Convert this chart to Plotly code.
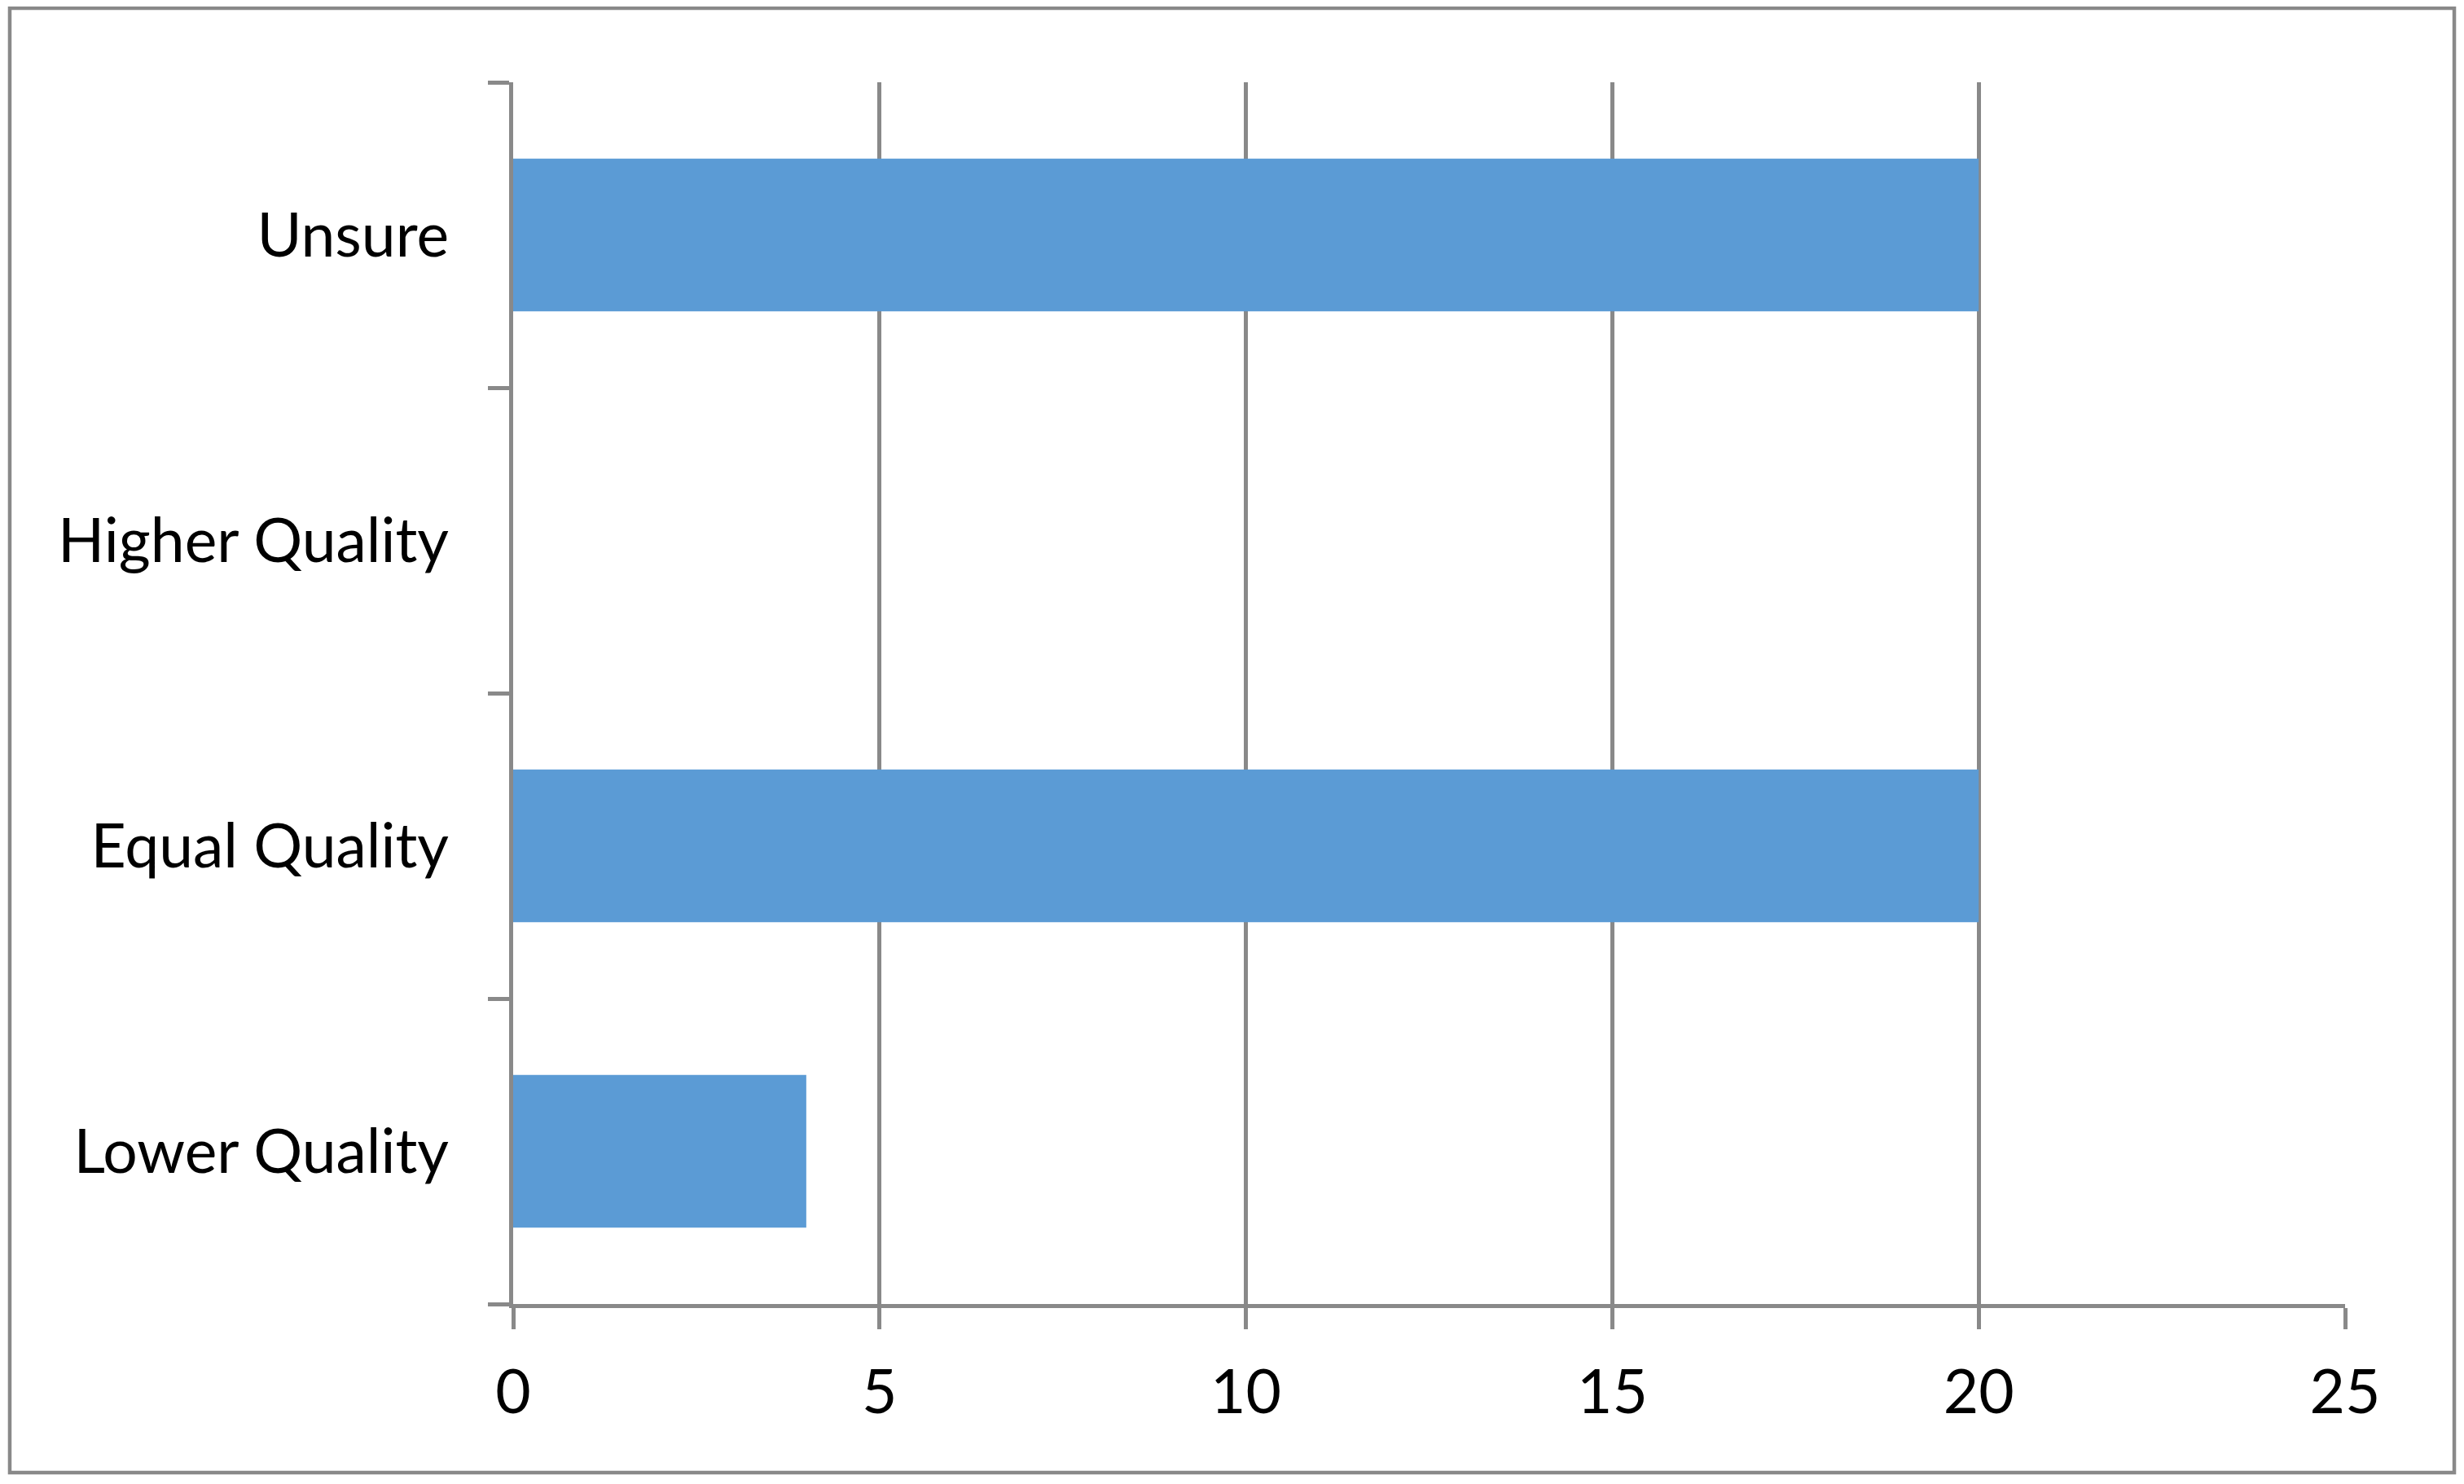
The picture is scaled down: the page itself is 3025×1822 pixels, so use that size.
import plotly.graph_objects as go

categories = ["Lower Quality", "Equal Quality", "Higher Quality", "Unsure"]
values = [4, 20, 0, 20]
x_ticks = [0, 5, 10, 15, 20, 25]

GRID = "#898989"
BAR = "#5B9BD5"
FONT = "Lato"

fig = go.Figure(
    go.Bar(
        y=categories,
        x=values,
        orientation="h",
        marker=dict(color=BAR, line=dict(width=0)),
    )
)

fig.update_layout(
    width=3009,
    height=1806,
    margin=dict(l=622, r=138, t=93, b=213),
    paper_bgcolor="white",
    plot_bgcolor="white",
    bargap=0.5,
    showlegend=False,
    font=dict(family=FONT, size=75, color="black"),
    shapes=[
        dict(
            type="rect",
            xref="paper",
            yref="paper",
            x0=-0.2748,
            x1=1.0596,
            y0=-0.138,
            y1=1.0607,
            line=dict(color=GRID, width=4.5),
            fillcolor="rgba(0,0,0,0)",
            layer="below",
        )
    ],
)

fig.update_xaxes(
    range=[0, 25],
    tickvals=x_ticks,
    ticktext=[str(v) for v in x_ticks],
    showgrid=True,
    gridcolor=GRID,
    gridwidth=5,
    showline=True,
    linecolor=GRID,
    linewidth=5,
    ticks="outside",
    ticklen=26,
    tickwidth=5,
    tickcolor=GRID,
    zeroline=False,
    ticklabelstandoff=13,
    tickfont=dict(family=FONT, size=75, color="black"),
)

fig.update_yaxes(
    categoryorder="array",
    categoryarray=categories,
    showgrid=False,
    showline=True,
    linecolor=GRID,
    linewidth=5,
    ticks="outside",
    tickson="boundaries",
    ticklen=26,
    tickwidth=5,
    tickcolor=GRID,
    zeroline=False,
    ticklabelstandoff=59,
    tickfont=dict(family=FONT, size=75, color="black"),
)

fig.write_html("out.html")
